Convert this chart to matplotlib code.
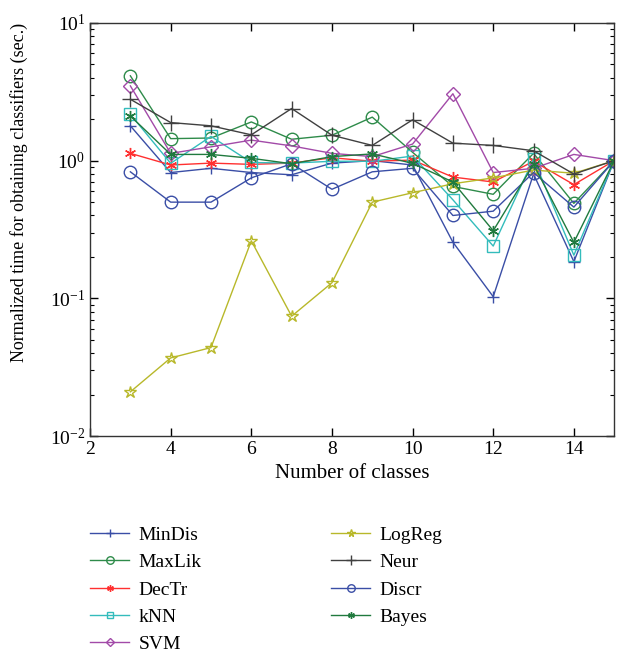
import numpy as np
import matplotlib
matplotlib.use("Agg")
import matplotlib.pyplot as plt
from matplotlib.ticker import LogLocator, NullFormatter

plt.rcParams["font.family"] = ["Liberation Serif", "DejaVu Serif"]
plt.rcParams["mathtext.fontset"] = "stix"

classes = [3, 4, 5, 6, 7, 8, 9, 10, 11, 12, 13, 14, 15]

min_dis = [1.79, 0.82, 0.88, 0.82, 0.79, 0.96, 1.00, 0.93, 0.256, 0.103, 0.80, 0.185, 1.0]
max_lik = [4.13, 1.445, 1.46, 1.91, 1.43, 1.53, 2.07, 1.15, 0.65, 0.57, 1.13, 0.49, 1.0]
dec_tr = [1.13, 0.93, 0.96, 0.94, 0.96, 1.05, 0.99, 1.01, 0.76, 0.70, 0.99, 0.67, 1.0]
knn = [2.17, 0.957, 1.50, 0.97, 0.96, 0.99, 0.99, 1.08, 0.52, 0.24, 1.03, 0.206, 1.0]
svm = [3.49, 1.13, 1.26, 1.41, 1.28, 1.13, 1.07, 1.32, 3.06, 0.82, 0.88, 1.11, 1.0]
log_reg = [0.021, 0.037, 0.044, 0.262, 0.0743, 0.130, 0.50, 0.585, 0.68, 0.75, 0.855, 0.81, 1.0]
neur = [2.79, 1.89, 1.79, 1.54, 2.39, 1.53, 1.29, 1.98, 1.34, 1.29, 1.18, 0.80, 1.0]
discr = [0.83, 0.50, 0.50, 0.75, 0.95, 0.62, 0.83, 0.88, 0.40, 0.43, 0.82, 0.46, 1.0]
bayes = [2.11, 1.11, 1.11, 1.04, 0.95, 1.07, 1.12, 0.957, 0.70, 0.31, 0.94, 0.255, 1.0]

asterisk = (6, 2, 0)
series = [
    ("MinDis", min_dis, "#3a4ea6", "+", 9),
    ("MaxLik", max_lik, "#2e8b4a", "o", 9),
    ("DecTr", dec_tr, "#ff3030", asterisk, 8),
    ("kNN", knn, "#33bcbc", "s", 8),
    ("SVM", svm, "#a24aa8", "D", 7),
    ("LogReg", log_reg, "#b8b82a", "*", 9),
    ("Neur", neur, "#404040", "+", 11),
    ("Discr", discr, "#3a4ea6", "o", 9),
    ("Bayes", bayes, "#207a3e", asterisk, 8),
]

fig = plt.figure(figsize=(6.21, 6.54), dpi=100)
ax = fig.add_axes([0.145, 0.333, 0.844, 0.632])

for name, vals, color, marker, ms in series:
    ax.plot(classes, vals, color=color, lw=1.0, marker=marker, ms=ms,
            mfc="none", mec=color, mew=1.0, label=name)

ax.set_yscale("log")
ax.set_xlim(2, 15)
ax.set_ylim(1e-2, 1e1)
ax.set_xticks([2, 4, 6, 8, 10, 12, 14])
ax.yaxis.set_major_locator(LogLocator(base=10, numticks=5))
ax.yaxis.set_minor_locator(LogLocator(base=10, subs=np.arange(2, 10), numticks=10))
ax.yaxis.set_minor_formatter(NullFormatter())
ax.tick_params(which="both", direction="in", top=True, right=True, labelsize=14)
ax.tick_params(which="major", length=6, width=1.0)
ax.tick_params(which="minor", length=3, width=0.8)
for sp in ax.spines.values():
    sp.set_linewidth(1.0)
    sp.set_color("#333333")

ax.set_xlabel("Number of classes", fontsize=15)
ax.set_ylabel("Normalized time for obtaining classifiers (sec.)", fontsize=13)
ax.yaxis.set_label_coords(-0.118, 0.59)

handles, labels = ax.get_legend_handles_labels()
fig.legend(handles, labels, ncol=2, frameon=False, fontsize=14,
           loc="upper left", bbox_to_anchor=(0.117, 0.222), markerscale=0.6,
           handlelength=2.0, columnspacing=6.65, labelspacing=0.5, handletextpad=0.5)

fig.savefig("out.png", dpi=100)
